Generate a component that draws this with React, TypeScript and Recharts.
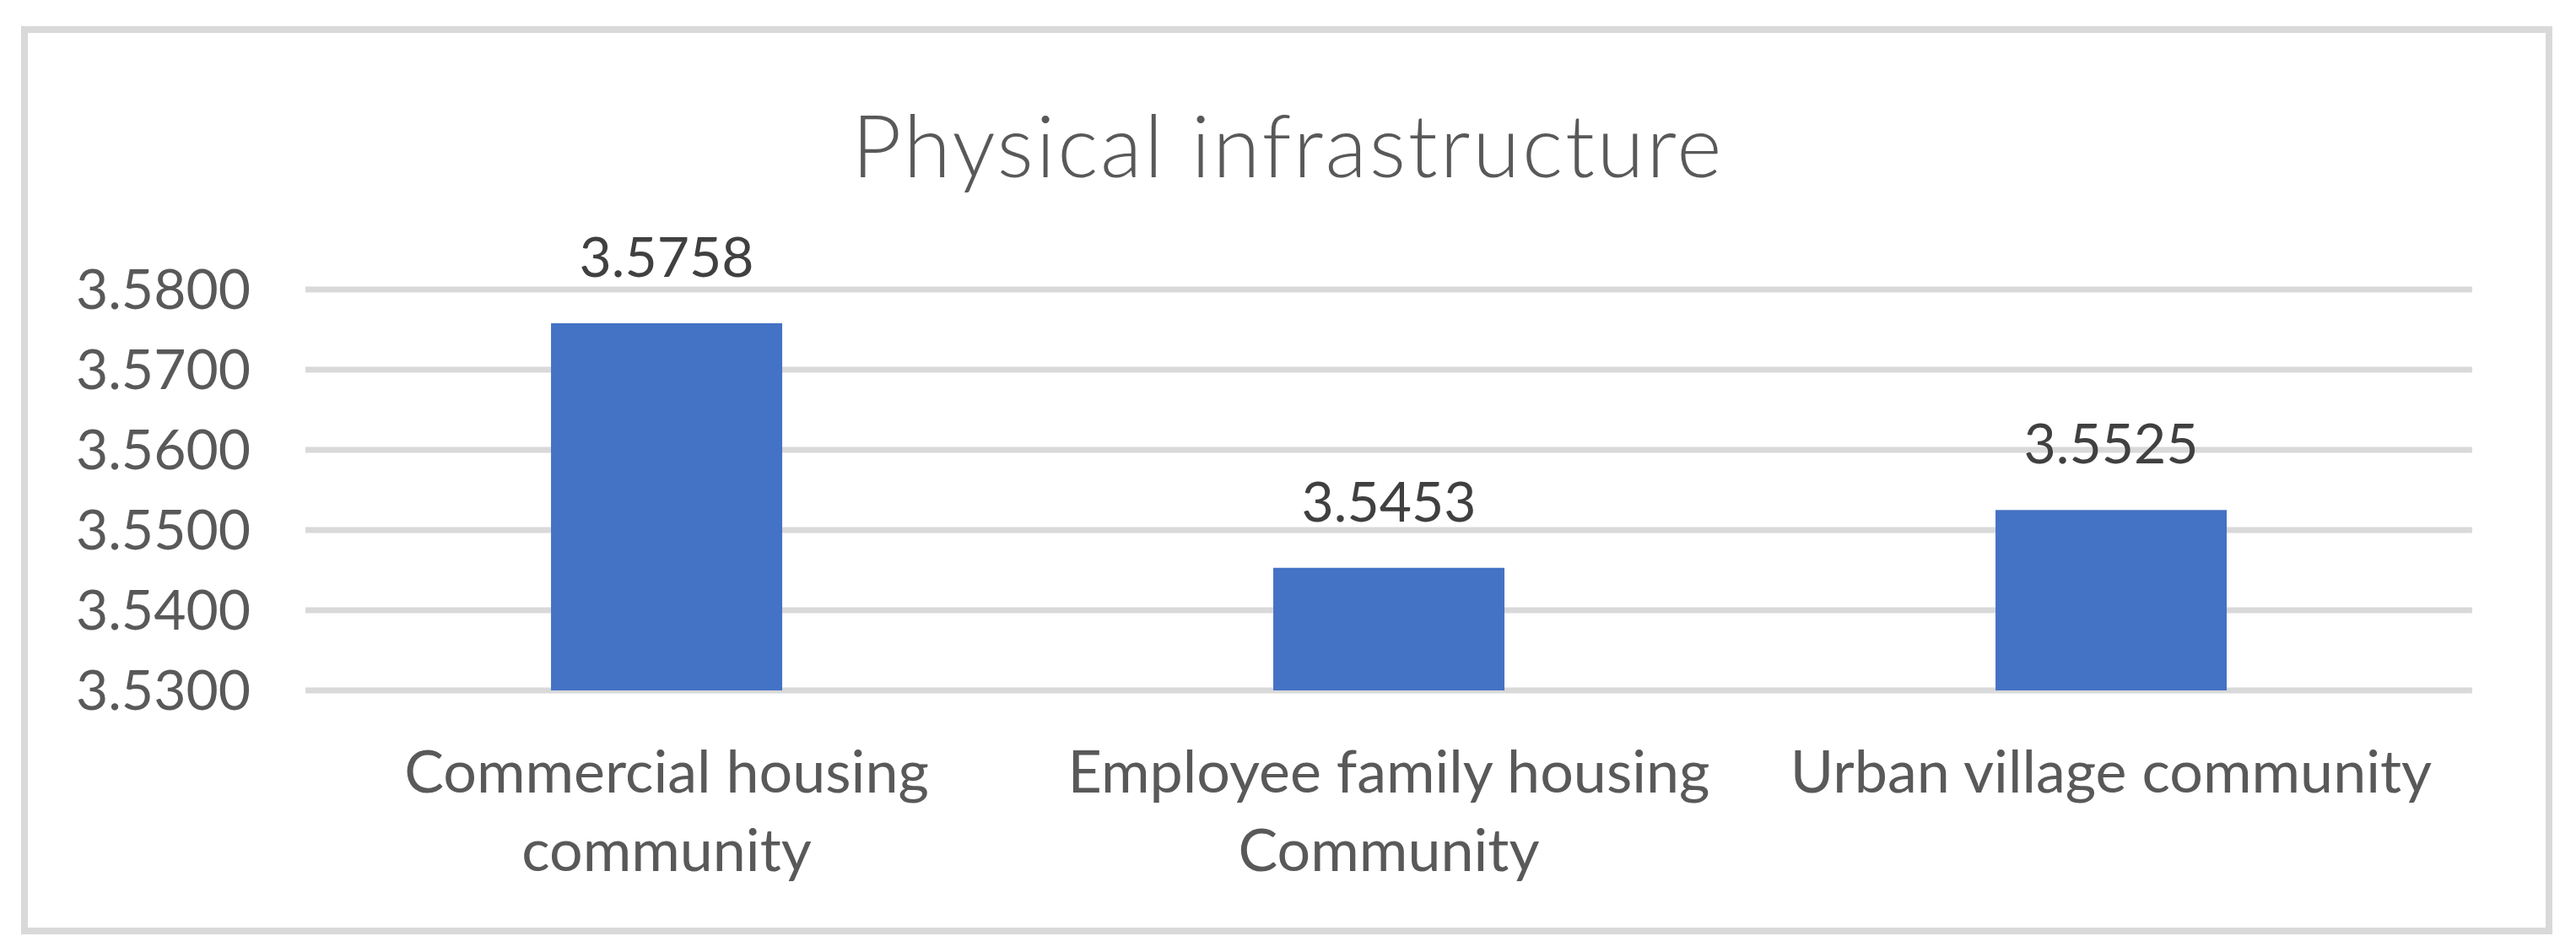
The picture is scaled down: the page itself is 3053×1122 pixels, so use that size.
import { BarChart, Bar, XAxis, YAxis, CartesianGrid, LabelList } from "recharts";

const categories = ["Commercial housing community", "Employee family housing Community", "Urban village community"];
const tickLines = [["Commercial housing", "community"], ["Employee family housing", "Community"], ["Urban village community"]];
const values = [3.5758, 3.5453, 3.5525];
const yTicks = [3.53, 3.54, 3.55, 3.56, 3.57, 3.58];
const title = "Physical infrastructure";

const data = categories.map((name, i) => ({ name, value: values[i] }));

const FONT = "Lato, 'Open Sans', sans-serif";

function CategoryTick(props: any) {
    const { x, y, index } = props;
    const lines = tickLines[index] || [];
    return (
        <text x={x} y={y} textAnchor="middle" fill="#595959" fontSize={70} fontFamily={FONT}>
            {lines.map((ln, i) => (
                <tspan key={i} x={x} y={y + 121 + i * 93}>{ln}</tspan>
            ))}
        </text>
    );
}

export default function App() {
    return (
        <div style={{ position: "absolute", left: 0, top: 0, width: 3053, height: 1122, background: "#fff" }}>
            <div style={{ position: "absolute", left: 25, top: 31, width: 3000, height: 1076, border: "8px solid #d9d9d9", boxSizing: "border-box" }} />
            <svg width={3053} height={1122} style={{ position: "absolute", left: 0, top: 0 }}>
                <text x={1525} y={210} textAnchor="middle" fill="#595959" fontSize={102} fontFamily={FONT} fontWeight={300}
                    textLength={1031} lengthAdjust="spacing">{title}</text>
            </svg>
            <div style={{ position: "absolute", left: 0, top: 0 }}>
                <BarChart width={3053} height={1122} data={data} margin={{ top: 343, right: 123, bottom: 104, left: 62 }} barCategoryGap="34%">
                    <CartesianGrid horizontal vertical={false} stroke="#d9d9d9" strokeWidth={7} />
                    <XAxis dataKey="name" axisLine={false} tickLine={false} tickSize={0} tickMargin={0} height={200} tick={<CategoryTick />} interval={0} />
                    <YAxis domain={[3.53, 3.58]} ticks={yTicks} width={300} axisLine={false} tickLine={false} tickSize={0} tickMargin={65}
                        tickFormatter={(v: number) => v.toFixed(4)} tick={{ fill: "#595959", fontSize: 66, fontFamily: FONT }} />
                    <Bar dataKey="value" fill="#4472C4" isAnimationActive={false}>
                        <LabelList dataKey="value" position="top" offset={55} formatter={(v: any) => Number(v).toFixed(4)}
                            style={{ fill: "#404040", fontSize: 66, fontFamily: FONT }} />
                    </Bar>
                </BarChart>
            </div>
        </div>
    );
}
